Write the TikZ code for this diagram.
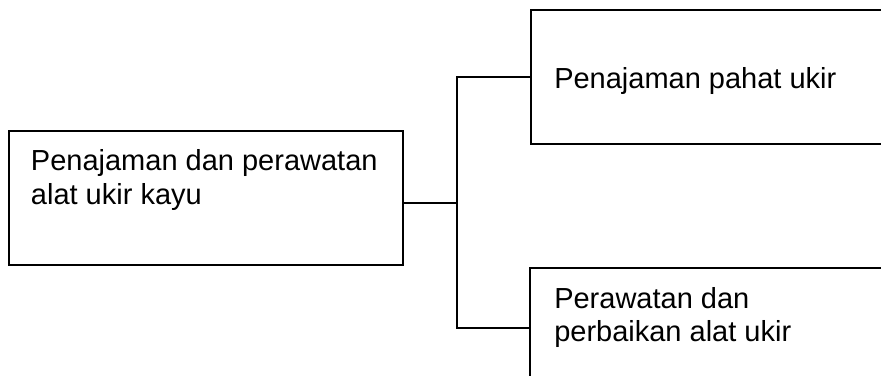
\documentclass[tikz,border=0pt]{standalone}
\usepackage{fontspec}
\setmainfont{Liberation Sans}
\tikzset{
  box/.style={draw, line width=1pt, rectangle, inner sep=0pt},
  boxtext/.style={anchor=base west, inner sep=0pt, align=left,
    font=\fontsize{21.75}{25.1}\selectfont},
  link/.style={line width=1pt}
}
\begin{document}
\begin{tikzpicture}[x=0.75pt,y=-0.75pt]
  \useasboundingbox (0,0) rectangle (881,375);
  \clip (0,0) rectangle (881,375);
  % boxes
  \node[box, minimum width=394*0.75pt, minimum height=134*0.75pt] (main) at (206,198) {};
  \node[box, minimum width=400*0.75pt, minimum height=134*0.75pt] (sharpen) at (731,77) {};
  \node[box, minimum width=400*0.75pt, minimum height=120*0.75pt] (care) at (730,328) {};
  % texts (base = last line)
  \node[boxtext] (maintext) at (30.7,204) {Penajaman dan perawatan\\alat ukir kayu};
  \node[boxtext] (sharpentext) at (554,88.3) {Penajaman pahat ukir};
  \node[boxtext] (caretext) at (554,341.7) {Perawatan dan\\perbaikan alat ukir};
  % connectors
  \coordinate (fork) at (457,203);
  \draw[link] (fork -| main.east) -- (fork);
  \draw[link] (sharpen.west) -| (fork) |- (care.west);
\end{tikzpicture}
\end{document}
